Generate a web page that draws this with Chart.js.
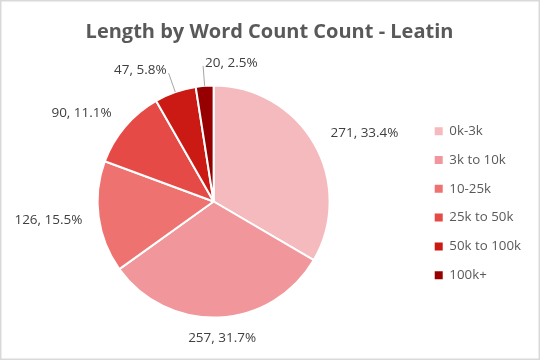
<!DOCTYPE html>
<html>
<head>
<meta charset="utf-8">
<script src="https://cdn.jsdelivr.net/npm/chart.js@4.4.0/dist/chart.umd.min.js"></script>
<style>
  body { margin: 0; background: #fff; }
</style>
</head>
<body>
<canvas id="wordChart" width="540" height="360"></canvas>
<script>
const categories = ['0k-3k', '3k to 10k', '10-25k', '25k to 50k', '50k to 100k', '100k+'];
const counts = [271, 257, 126, 90, 47, 20];
const colors = ['#F4BABE', '#F1969B', '#EE726F', '#E54A46', '#CB1A14', '#960000'];

const total = counts.reduce((a, b) => a + b, 0);

// light frame round the whole chart, like the spreadsheet export
const frame = {
    id: 'frame',
    beforeDraw(chart) {
        const ctx = chart.ctx;
        ctx.save();
        ctx.fillStyle = '#fff';
        ctx.fillRect(0, 0, chart.width, chart.height);
        ctx.strokeStyle = '#d9d9d9';
        ctx.lineWidth = 1.5;
        ctx.strokeRect(0.75, 0.75, chart.width - 1.5, chart.height - 1.5);
        ctx.restore();
    }
};

// "value, percent" labels outside the slices, leader lines on the thin ones
const sliceLabels = {
    id: 'sliceLabels',
    afterDatasetsDraw(chart) {
        const ctx = chart.ctx;
        const arcs = chart.getDatasetMeta(0).data;
        ctx.save();
        ctx.font = '13.5px "Open Sans"';
        ctx.fillStyle = '#404040';
        ctx.strokeStyle = '#a6a6a6';
        ctx.lineWidth = 1;
        ctx.textBaseline = 'middle';
        arcs.forEach((arc, i) => {
            const v = counts[i];
            const text = v + ', ' + (v / total * 100).toFixed(1) + '%';
            const mid = (arc.startAngle + arc.endAngle) / 2;
            const dx = Math.cos(mid), dy = Math.sin(mid);
            const r = arc.outerRadius;
            const w = ctx.measureText(text).width;
            if (v / total < 0.08) {
                const x0 = arc.x + dx * r, y0 = arc.y + dy * r;
                const x1 = arc.x + dx * (r + 20), y1 = arc.y + dy * (r + 20);
                ctx.beginPath();
                ctx.moveTo(x0, y0);
                ctx.lineTo(x1, y1);
                ctx.stroke();
                const left = dx < -0.2;
                ctx.textAlign = left ? 'right' : 'left';
                ctx.fillText(text, x1 + (left ? -2 : 2), y1 - 3);
            } else {
                const px = arc.x + dx * (r + 14), py = arc.y + dy * (r + 14);
                // diagonal labels get pushed a bit further sideways
                const push = Math.sign(dx) * 20 * Math.abs(dx * dy);
                ctx.textAlign = 'center';
                ctx.fillText(text, px + dx * w / 2 + push, py + dy * 7);
            }
        });
        ctx.restore();
    }
};

new Chart(document.getElementById('wordChart'), {
    type: 'pie',
    data: {
        labels: categories,
        datasets: [{
            data: counts,
            backgroundColor: colors,
            borderColor: '#fff',
            borderWidth: 2
        }]
    },
    options: {
        responsive: false,
        animation: false,
        radius: 116,
        layout: {
            padding: { left: 8, right: 9, top: 0, bottom: 18 }
        },
        plugins: {
            title: {
                display: true,
                text: 'Length by Word Count Count - Leatin',
                color: '#595959',
                font: { family: 'Open Sans', size: 20, weight: 'bold' },
                padding: { top: 20, bottom: 17 }
            },
            legend: {
                position: 'right',
                // empty legend title only pushes the items down to the pie's middle
                title: {
                    display: true,
                    text: '',
                    font: { size: 12 },
                    padding: { top: 50, bottom: 0 }
                },
                labels: {
                    boxWidth: 8,
                    boxHeight: 8,
                    padding: 15.5,
                    color: '#595959',
                    font: { family: 'Open Sans', size: 13.3 },
                    generateLabels(chart) {
                        const items = Chart.overrides.pie.plugins.legend.labels.generateLabels(chart);
                        items.forEach(it => { it.lineWidth = 0; });
                        return items;
                    }
                }
            },
            tooltip: { enabled: false }
        }
    },
    plugins: [frame, sliceLabels]
});
</script>
</body>
</html>
